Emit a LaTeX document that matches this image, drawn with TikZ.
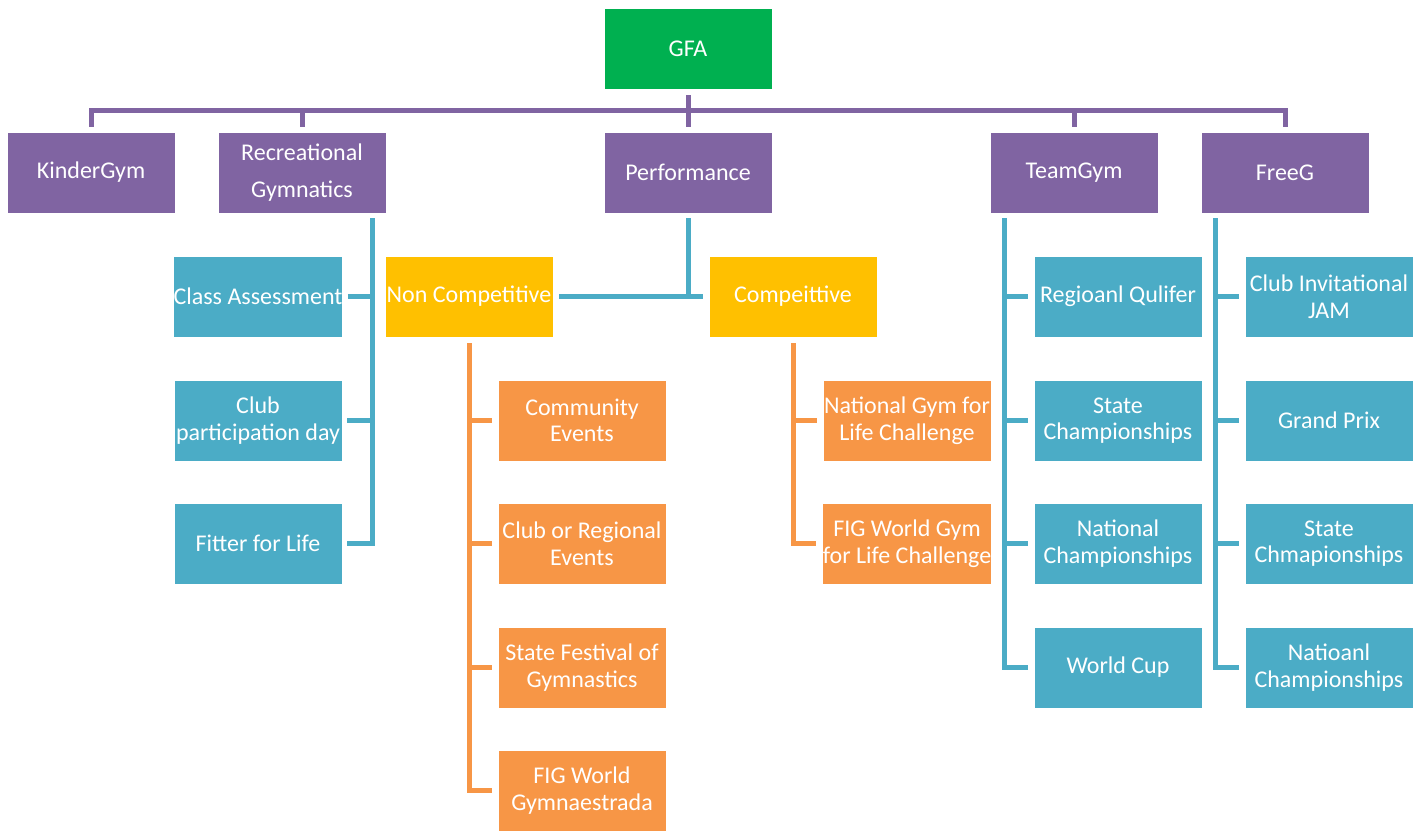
\documentclass[tikz,border=0pt]{standalone}
\usepackage{fontspec}
\setmainfont{Carlito}
\usetikzlibrary{calc}
\definecolor{cgreen}{HTML}{00B050}
\definecolor{cpurple}{HTML}{8064A2}
\definecolor{cblue}{HTML}{4BACC6}
\definecolor{corange}{HTML}{F79646}
\definecolor{cyellow}{HTML}{FFC000}
\tikzset{
  box/.style={rectangle, draw=white, line width=0.8pt, minimum width=168pt, minimum height=81pt,
    inner sep=0pt, text=white, align=center, font=\fontsize{24}{26.5}\selectfont},
  gbox/.style={box, fill=cgreen},
  pbox/.style={box, fill=cpurple, font=\fontsize{24}{37}\selectfont},
  bbox/.style={box, fill=cblue},
  obox/.style={box, fill=corange},
  ybox/.style={box, fill=cyellow},
  pline/.style={draw=cpurple, line width=5pt},
  bline/.style={draw=cblue, line width=5pt},
  oline/.style={draw=corange, line width=5pt},
}
\begin{document}
\begin{tikzpicture}[x=1pt,y=-1pt]
\useasboundingbox (0,0) rectangle (1427,830);
% level 0 and 1
\node[gbox] (GFA) at (688,48.5) {GFA};
\node[pbox] (KG) at (91,172.5) {KinderGym};
\node[pbox] (Rec) at (302,172.5) {Recreational\\Gymnatics};
\node[pbox] (Perf) at (688,172.5) {Performance};
\node[pbox] (TG) at (1074,172.5) {TeamGym};
\node[pbox] (FG) at (1285,172.5) {FreeG};
% recreational children
\node[bbox] (CA) at (258,296.5) {Class Assessment};
\node[bbox] (CP) at (258,420.5) {Club\\participation day};
\node[bbox] (FL) at (258,543.5) {Fitter for Life};
% performance children
\node[ybox] (NC) at (469,296.5) {Non Competitive};
\node[ybox] (CO) at (793,296.5) {Compeittive};
\node[obox] (CE) at (582,420.5) {Community\\Events};
\node[obox] (CR) at (582,543.5) {Club or Regional\\Events};
\node[obox] (SF) at (582,667.5) {State Festival of\\Gymnastics};
\node[obox] (FW) at (582,790.5) {FIG World\\Gymnaestrada};
\node[obox] (NG) at (907,420.5) {National Gym for\\Life Challenge};
\node[obox] (FGL) at (907,543.5) {FIG World Gym\\for Life Challenge};
% teamgym children
\node[bbox] (RQ) at (1118,296.5) {Regioanl Qulifer};
\node[bbox] (SC) at (1118,420.5) {State\\Championships};
\node[bbox] (NCh) at (1118,543.5) {National\\Championships};
\node[bbox] (WC) at (1118,667.5) {World Cup};
% freeg children
\node[bbox] (CI) at (1329,296.5) {Club Invitational\\JAM};
\node[bbox] (GP) at (1329,420.5) {Grand Prix};
\node[bbox] (SCh) at (1329,543.5) {State\\Chmapionships};
\node[bbox] (NaC) at (1329,667.5) {Natioanl\\Championships};
% purple connectors
\draw[pline] ($(KG.north)+(0,-5)$) -- ++(0,-16.5) -| ($(FG.north)+(0,-5)$);
\draw[pline] ($(Rec.north)+(0,-5)$) -- ++(0,-16.5);
\draw[pline] ($(TG.north)+(0,-5)$) -- ++(0,-16.5);
\draw[pline] ($(GFA.south)+(0,6)$) -- ($(Perf.north)+(0,-5)$);
% recreational connectors
\draw[bline] ($(Rec.south)+(70,5)$) |- ($(FL.east)+(5,0)$);
\draw[bline] ($(CA.east)+(5,0)$) -- ($(Rec.south|-CA.east)+(70,0)$);
\draw[bline] ($(CP.east)+(5,0)$) -- ($(Rec.south|-CP.east)+(70,0)$);
% performance connectors
\draw[bline] ($(Perf.south)+(0,5)$) -- (Perf.south|-NC.east);
\draw[bline] ($(NC.east)+(6,0)$) -- ($(CO.west)+(-6,0)$);
% non competitive connectors
\draw[oline] ($(NC.south)+(0,6)$) |- ($(FW.west)+(-6,0)$);
\draw[oline] (NC.south|-CE.west) -- ($(CE.west)+(-6,0)$);
\draw[oline] (NC.south|-CR.west) -- ($(CR.west)+(-6,0)$);
\draw[oline] (NC.south|-SF.west) -- ($(SF.west)+(-6,0)$);
% competitive connectors
\draw[oline] ($(CO.south)+(0,6)$) |- ($(FGL.west)+(-6,0)$);
\draw[oline] (CO.south|-NG.west) -- ($(NG.west)+(-6,0)$);
% teamgym connectors
\draw[bline] ($(TG.south west)+(15,5)$) |- ($(WC.west)+(-6,0)$);
\draw[bline] ($(TG.south west|-RQ.west)+(15,0)$) -- ($(RQ.west)+(-6,0)$);
\draw[bline] ($(TG.south west|-SC.west)+(15,0)$) -- ($(SC.west)+(-6,0)$);
\draw[bline] ($(TG.south west|-NCh.west)+(15,0)$) -- ($(NCh.west)+(-6,0)$);
% freeg connectors
\draw[bline] ($(FG.south west)+(15,5)$) |- ($(NaC.west)+(-6,0)$);
\draw[bline] ($(FG.south west|-CI.west)+(15,0)$) -- ($(CI.west)+(-6,0)$);
\draw[bline] ($(FG.south west|-GP.west)+(15,0)$) -- ($(GP.west)+(-6,0)$);
\draw[bline] ($(FG.south west|-SCh.west)+(15,0)$) -- ($(SCh.west)+(-6,0)$);
\end{tikzpicture}
\end{document}
